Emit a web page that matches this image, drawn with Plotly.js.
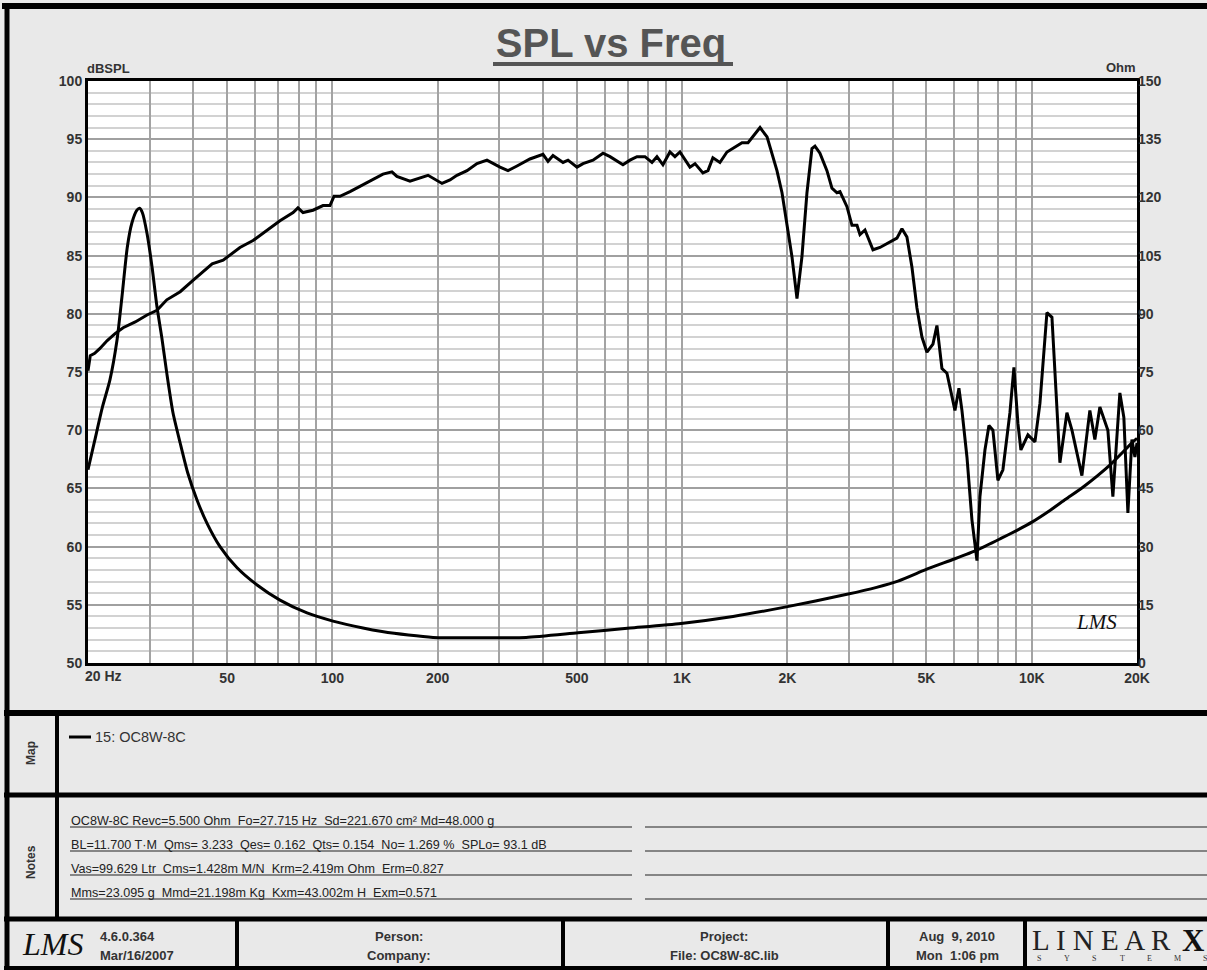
<!DOCTYPE html>
<html>
<head>
<meta charset="utf-8">
<script src="https://cdn.plot.ly/plotly-3.0.1.min.js"></script>
<style>html,body{margin:0;padding:0;background:#e9e9e9;}#chart{width:1207px;height:970px;}</style>
</head>
<body>
<div id="chart"></div>
<script>
// ---------- data ----------
const splFreq = [20,20.3,20.9,21.6,22.7,23.9,25.2,27.3,29.5,31.5,33.6,36.7,40.0,43.8,45.3,48.7,50.3,54.4,59.3,65.0,70.8,77.2,79.7,82.4,88.0,94.0,98.4,101.1,105.1,112.3,122.3,130.6,139.5,148.0,152.9,166.7,178.0,187.7,205.8,216.9,227.1,242.6,259.1,276.7,301.5,317.8,337.2,367.2,400.2,413.6,427.4,456.6,471.9,500.6,520.8,556.2,594.1,622.2,677.5,709.5,743.0,783.1,820.1,847.5,881.6,923.2,954.1,986.1,1053,1089,1147,1186,1225,1283,1344,1399,1484,1544,1617,1671,1750,1808,1868,1931,1996,2062,2131,2202,2276,2352,2399,2479,2596,2683,2773,2829,2962,3061,3164,3227,3335,3401,3515,3681,3931,4116,4254,4396,4544,4696,4853,5015,5218,5356,5536,5721,6031,6191,6315,6527,6745,6971,7110,7348,7544,7744,8003,8271,8662,8893,9129,9311,9752,10213,10555,11052,11423,11649,12039,12608,13031,13914,14663,15154,15662,16509,17062,17865,18342,18835,19342,19727,20000];
const splDb = [75.1,76.4,76.6,77.0,77.7,78.3,78.8,79.3,79.9,80.3,81.2,81.9,82.9,83.9,84.3,84.6,84.9,85.7,86.3,87.2,88.0,88.7,89.1,88.7,88.9,89.3,89.3,90.1,90.1,90.5,91.1,91.5,92.0,92.2,91.8,91.4,91.7,91.9,91.2,91.5,91.9,92.3,92.9,93.2,92.6,92.3,92.7,93.3,93.7,93.1,93.6,93.0,93.2,92.6,92.9,93.2,93.8,93.5,92.8,93.2,93.5,93.5,93.0,93.5,92.8,93.9,93.5,93.9,92.6,92.9,92.1,92.3,93.4,93.0,93.9,94.2,94.7,94.7,95.5,96.0,95.2,93.8,92.3,90.4,87.4,84.9,81.3,84.9,90.4,94.2,94.4,93.8,92.3,90.8,90.4,90.5,89.2,87.6,87.6,86.8,87.2,86.6,85.5,85.7,86.2,86.5,87.3,86.6,84.0,80.5,78.0,76.7,77.4,79.0,75.3,74.9,71.7,73.6,71.7,67.7,62.3,58.8,64.3,68.3,70.4,70.0,65.7,66.6,71.5,75.4,70.6,68.3,69.6,69.0,72.3,80.1,79.7,74.9,67.2,71.5,70.0,66.1,71.7,69.2,72.0,70.0,64.3,73.2,71.1,62.9,69.2,67.7,68.9];

const impFreq = [20.0,20.9,22.0,23.1,24.2,25.0,25.9,26.7,27.6,28.1,28.6,29.5,30.5,31.5,32.5,33.6,35.0,36.7,38.6,41.0,43.8,47.7,53.3,60.9,70.8,84.6,100.4,122.3,138.6,165,194,270,358,504,710,993,1399,1969,2962,3600,4144,5049,6000,6971,8162,9074,10013,11273,12500,14005,16725,19474,20000];
const impOhm  = [49.8,57.3,66.0,72.9,83.1,94.2,107.1,113.4,116.7,117.2,116.1,110.7,102.0,91.8,84.0,74.7,64.5,56.7,48.9,42.0,36.0,30.0,24.6,20.1,16.2,12.9,10.8,9.0,8.1,7.2,6.6,6.5,6.6,7.8,9.0,10.2,12.0,14.4,17.7,19.5,21.1,24.3,26.8,29.1,32.1,34.2,36.3,39.3,42.2,45.3,51.0,57.0,57.9];

const xTickVals = [20,30,40,50,60,70,80,90,100,200,300,400,500,600,700,800,900,1000,2000,3000,4000,5000,6000,7000,8000,9000,10000,20000];
const xTickText = ['','','','50','','','','','100','200','','','500','','','','','1K','2K','','','5K','','','','','10K','20K'];
const seriesName = '15: OC8W-8C';
const notesLines = [
  'OC8W-8C Revc=5.500 Ohm\u00A0 Fo=27.715 Hz\u00A0 Sd=221.670 cm\u00B2 Md=48.000 g',
  'BL=11.700 T\u00B7M\u00A0 Qms= 3.233\u00A0 Qes= 0.162\u00A0 Qts= 0.154\u00A0 No= 1.269 %\u00A0 SPLo= 93.1 dB',
  'Vas=99.629 Ltr\u00A0 Cms=1.428m M/N\u00A0 Krm=2.419m Ohm\u00A0 Erm=0.827',
  'Mms=23.095 g\u00A0 Mmd=21.198m Kg\u00A0 Kxm=43.002m H\u00A0 Exm=0.571'
];

// ---------- layout helpers (pixel -> paper) ----------
const L = 88, R = 1137, T = 81, B = 663;
const px = x => (x - L) / (R - L);
const py = y => (B - y) / (B - T);
const SANS = 'Liberation Sans, Arial, sans-serif';
const SERIF = 'Liberation Serif, DejaVu Serif, serif';

function hline(y, x0, x1, w, c) {
  return {type:'line', xref:'paper', yref:'paper', x0:px(x0), x1:px(x1), y0:py(y), y1:py(y), line:{color:c||'#000', width:w}};
}
function vline(x, y0, y1, w, c) {
  return {type:'line', xref:'paper', yref:'paper', x0:px(x), x1:px(x), y0:py(y0), y1:py(y1), line:{color:c||'#000', width:w}};
}
function ann(text, x, y, o) {
  o = o || {};
  return {text:text, xref:'paper', yref:'paper', x:px(x), y:py(y), showarrow:false,
          xanchor:o.xa||'left', yanchor:'middle', textangle:o.angle||0,
          font:{family:o.family||SANS, size:o.size||12, color:o.color||'#333', weight:o.weight||'normal', style:o.style||'normal'}};
}

const shapes = [
  hline(6, 2, 1215, 6),
  vline(7, 3, 970, 5),
  hline(713, 4, 1215, 6),
  hline(795, 4, 1215, 5),
  hline(919, 4, 1215, 5),
  hline(968, 4, 1215, 4),
  vline(57, 713, 919, 4),
  vline(237, 919, 968, 4),
  vline(563, 919, 968, 4),
  vline(888, 919, 968, 4),
  vline(1025, 919, 968, 4),
  hline(64, 493, 733, 4, '#555'),
  hline(737, 69, 91, 3)
];
const noteY = [821, 845, 869, 893];
noteY.forEach(y => { shapes.push(hline(y + 6, 70, 632, 1.2, '#222')); shapes.push(hline(y + 6, 645, 1215, 1.2, '#222')); });

const annotations = [
  ann('dBSPL', 85, 68, {size:13, weight:'bold'}),
  ann('Ohm', 1138, 67, {size:13, weight:'bold', xa:'right'}),
  ann('20 Hz', 83, 676, {size:14, weight:'bold'}),
  ann('Map', 31, 753, {size:12, weight:'bold', angle:-90, xa:'center'}),
  ann('Notes', 31, 862, {size:12, weight:'bold', angle:-90, xa:'center'}),
  ann(seriesName, 93, 737, {size:14.5, color:'#333'}),
  ann('LMS', 1096, 622, {family:SERIF, size:21, style:'italic', color:'#111', xa:'center'}),
  ann('LMS', 52, 944, {family:SERIF, size:32, style:'italic', color:'#111', xa:'center'}),
  ann('4.6.0.364', 98, 936, {size:13, weight:'bold'}),
  ann('Mar/16/2007', 98, 955, {size:13, weight:'bold'}),
  ann('Person:', 399, 936, {size:13, weight:'bold', xa:'center'}),
  ann('Company:', 399, 955, {size:13, weight:'bold', xa:'center'}),
  ann('Project:', 724, 936, {size:13, weight:'bold', xa:'center'}),
  ann('File: OC8W-8C.lib', 724, 955, {size:13, weight:'bold', xa:'center'}),
  ann('Aug\u00A0 9, 2010', 957, 936, {size:13, weight:'bold', xa:'center'}),
  ann('Mon\u00A0 1:06 pm', 957, 955, {size:13, weight:'bold', xa:'center'}),
  ann('L I N E A R', 1030, 940, {family:SERIF, size:29, color:'#222'}),
  ann('X', 1180, 940, {family:SERIF, size:31, color:'#111', weight:'bold'})
];
'SYSTEMS'.split('').forEach((ch, i) => annotations.push(ann(ch, 1039 + i * 27.7, 958, {family:SERIF, size:8, color:'#333', xa:'center'})));
notesLines.forEach((t, i) => annotations.push(ann(t, 69, noteY[i], {size:12.6, color:'#222'})));

const tickFont = {family:SANS, size:14, color:'#333', weight:'bold'};

const traces = [
  {x:splFreq, y:splDb, type:'scatter', mode:'lines', name:seriesName + ' SPL', yaxis:'y',
   line:{color:'#000', width:3}, showlegend:false, hoverinfo:'x+y'},
  {x:impFreq, y:impOhm, type:'scatter', mode:'lines', name:seriesName + ' Impedance', yaxis:'y2',
   line:{color:'#000', width:3, shape:'spline', smoothing:0.6}, showlegend:false, hoverinfo:'x+y'}
];

const layout = {
  width:1207, height:970,
  paper_bgcolor:'#e9e9e9', plot_bgcolor:'#ffffff',
  margin:{l:L, r:1207 - R, t:T, b:970 - B, pad:0},
  showlegend:false,
  title:{text:'SPL vs Freq', xref:'container', yref:'container', x:611/1207, xanchor:'center',
         y:1 - 43/970, yanchor:'middle', font:{family:SANS, size:40, color:'#555', weight:'bold'}},
  xaxis:{type:'log', range:[Math.log10(20), Math.log10(20000)], tickmode:'array', tickvals:xTickVals, ticktext:xTickText,
         showgrid:true, gridcolor:'#a3a3a3', gridwidth:2, ticks:'', tickfont:tickFont,
         showline:true, mirror:true, linecolor:'#000', linewidth:3, zeroline:false, fixedrange:true},
  yaxis:{range:[50, 100], tick0:50, dtick:5, showgrid:true, gridcolor:'#a0a0a0', gridwidth:2,
         minor:{dtick:1, showgrid:true, gridcolor:'#d2d2d2', gridwidth:2, ticks:''},
         ticks:'', tickfont:tickFont, showline:true, mirror:true, linecolor:'#000', linewidth:3,
         zeroline:false, fixedrange:true},
  yaxis2:{range:[0, 150], tick0:0, dtick:15, overlaying:'y', side:'right', showgrid:false, zeroline:false,
          ticks:'', tickfont:tickFont, showline:false, fixedrange:true},
  shapes:shapes,
  annotations:annotations
};

Plotly.newPlot('chart', traces, layout, {displayModeBar:false, staticPlot:true});
</script>
</body>
</html>
